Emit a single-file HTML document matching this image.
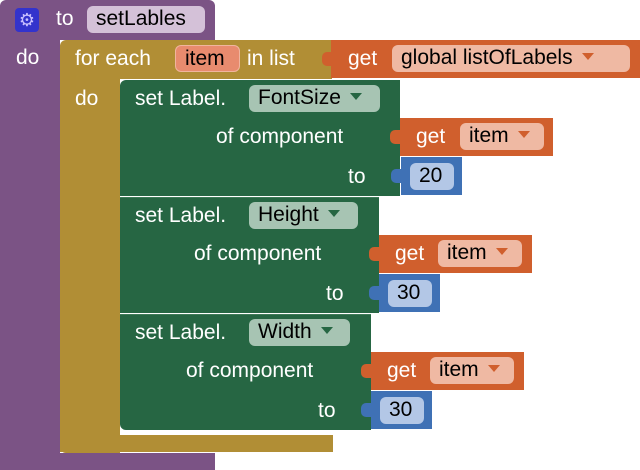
<!DOCTYPE html>
<html><head><style>
body{margin:0;width:640px;height:470px;background:#fff;position:relative;overflow:hidden;font-family:"Liberation Sans",sans-serif;}
div{position:absolute;box-sizing:border-box;}
.t{color:#fff;font-size:21px;line-height:22px;white-space:nowrap;}
.f{border-radius:6px;color:#000;font-size:21px;line-height:26px;height:27px;padding:0 9px;white-space:nowrap;}
.p{background:#7b5385}.g{background:#b18e35}.gr{background:#266643}.o{background:#d05f2d}.b{background:#3f71b5}
.tab{width:10px;height:14px;border-radius:5px 0 0 5px;}
.ar{display:inline-block;width:0;height:0;border-left:6px solid transparent;border-right:6px solid transparent;margin-left:9px;vertical-align:4px;}
</style></head><body>
<div class="p" style="left:0;top:0;width:215px;height:40px;border-radius:6px 6px 0 0"></div>
<div class="p" style="left:0;top:38px;width:60px;height:432px;border-radius:0 0 0 8px"></div>
<div class="p" style="left:0;top:453px;width:215px;height:17px"></div>
<div style="left:15px;top:8px;width:24px;height:24px;background:#3333cc;border-radius:4px;color:#c9c0ff;font-size:18px;line-height:24px;text-align:center">⚙</div>
<div class="t" style="left:56px;top:8px">to</div>
<div class="f" style="left:87px;top:6px;background:#d4c1d8;width:118px">setLables</div>
<div class="t" style="left:16px;top:47px">do</div>
<div class="g" style="left:60px;top:40px;width:272px;height:39px;border-radius:6px 0 0 0"></div>
<div class="g" style="left:60px;top:78px;width:60px;height:375px;border-radius:0 0 0 6px"></div>
<div class="g" style="left:60px;top:435px;width:273px;height:17px"></div>
<div class="t" style="left:75px;top:48px">for each</div>
<div class="f" style="left:175px;top:45px;background:#e88b6e;border:1px solid #f0b59e;width:65px">item</div>
<div class="t" style="left:247px;top:48px">in list</div>
<div class="o" style="left:331px;top:40px;width:309px;height:38px"></div>
<div class="o tab" style="left:322px;top:52px"></div>
<div class="t" style="left:348px;top:48px">get</div>
<div class="f" style="left:392px;top:45px;background:#efb9a3;width:238px">global listOfLabels<span class="ar" style="border-top:7px solid #d05f2d"></span></div>
<div class="t" style="left:75px;top:88px">do</div>
<div class="gr" style="left:120px;top:80px;width:280px;height:116px;border-radius:6px 0 0 0"></div>
<div class="t" style="left:135px;top:88px">set Label.</div>
<div class="f" style="left:249px;top:85px;background:#a7c4b3;width:131px">FontSize<span class="ar" style="border-top:7px solid #266643"></span></div>
<div class="t" style="left:216px;top:126px">of component</div>
<div class="t" style="left:348px;top:166px">to</div>
<div class="o" style="left:400px;top:118px;width:153px;height:38px"></div>
<div class="o tab" style="left:390px;top:130px"></div>
<div class="t" style="left:416px;top:126px">get</div>
<div class="f" style="left:460px;top:123px;background:#efb9a3;width:84px">item<span class="ar" style="border-top:7px solid #d05f2d"></span></div>
<div class="b" style="left:401px;top:157px;width:61px;height:38px"></div>
<div class="b tab" style="left:391px;top:169px"></div>
<div class="f" style="left:410px;top:163px;background:#b3c7e6;width:44px">20</div>
<div class="gr" style="left:120px;top:197px;width:259px;height:116px;border-top:1px solid #3f7a58"></div>
<div class="t" style="left:135px;top:205px">set Label.</div>
<div class="f" style="left:249px;top:202px;background:#a7c4b3;width:109px">Height<span class="ar" style="border-top:7px solid #266643"></span></div>
<div class="t" style="left:194px;top:243px">of component</div>
<div class="t" style="left:326px;top:283px">to</div>
<div class="o" style="left:379px;top:235px;width:153px;height:38px"></div>
<div class="o tab" style="left:369px;top:247px"></div>
<div class="t" style="left:395px;top:243px">get</div>
<div class="f" style="left:438px;top:240px;background:#efb9a3;width:84px">item<span class="ar" style="border-top:7px solid #d05f2d"></span></div>
<div class="b" style="left:379px;top:274px;width:61px;height:38px"></div>
<div class="b tab" style="left:369px;top:286px"></div>
<div class="f" style="left:388px;top:280px;background:#b3c7e6;width:44px">30</div>
<div class="gr" style="left:120px;top:314px;width:251px;height:116px;border-top:1px solid #3f7a58;border-radius:0 0 0 6px"></div>
<div class="t" style="left:135px;top:322px">set Label.</div>
<div class="f" style="left:249px;top:319px;background:#a7c4b3;width:101px">Width<span class="ar" style="border-top:7px solid #266643"></span></div>
<div class="t" style="left:186px;top:360px">of component</div>
<div class="t" style="left:318px;top:400px">to</div>
<div class="o" style="left:371px;top:352px;width:153px;height:38px"></div>
<div class="o tab" style="left:361px;top:364px"></div>
<div class="t" style="left:387px;top:360px">get</div>
<div class="f" style="left:430px;top:357px;background:#efb9a3;width:84px">item<span class="ar" style="border-top:7px solid #d05f2d"></span></div>
<div class="b" style="left:371px;top:391px;width:61px;height:38px"></div>
<div class="b tab" style="left:361px;top:403px"></div>
<div class="f" style="left:380px;top:397px;background:#b3c7e6;width:44px">30</div>
</body></html>
